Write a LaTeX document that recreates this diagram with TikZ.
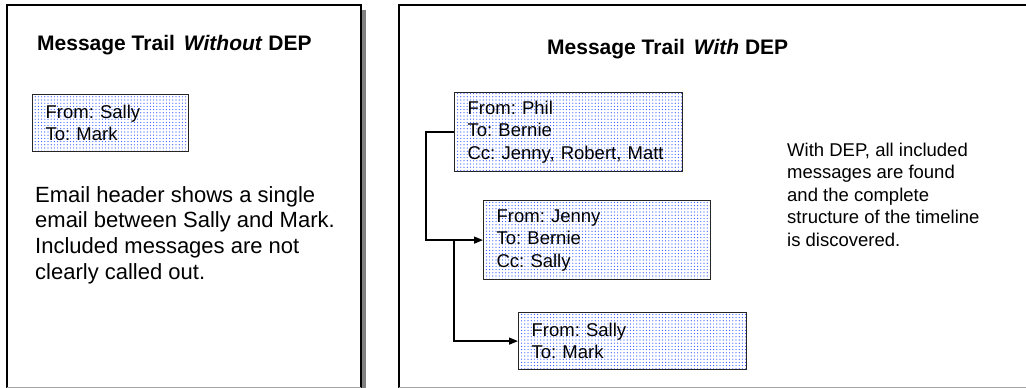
\documentclass[tikz,border=0pt]{standalone}
\usepackage{fontspec}
\setmainfont{Liberation Sans}
\usetikzlibrary{arrows.meta,patterns.meta}
\definecolor{dotblue}{RGB}{40,80,255}
\frenchspacing
\begin{document}
\begin{tikzpicture}[x=1pt,y=-1pt,
  panel/.style={draw=black,line width=1.5pt},
  msgbox/.style={draw=black!85,line width=1.2pt,
    pattern={Dots[distance=3.2pt,radius=0.6pt]},pattern color=dotblue,
    anchor=north west,align=left,inner xsep=13pt,inner ysep=0pt,
    font=\fontsize{18.5}{22.5}\selectfont},
  ttl/.style={anchor=base west,inner sep=0pt,font=\bfseries\fontsize{21}{25}\selectfont},
  desc/.style={anchor=base west,inner sep=0pt},
  link/.style={draw=black,line width=1.3pt,-{Triangle[length=9pt,width=7pt]}}]
\useasboundingbox (0,0) rectangle (1026,388);
\clip (0,0) rectangle (1026,388);
\fill[white] (0,0) rectangle (1026,388);
% left panel
\fill[black!50] (361,10) rectangle (365.5,390);
\draw[panel] (7,5) rectangle (361,395);
\draw[black!35,line width=1pt] (7,387.5) -- (361,387.5);
% right panel
\draw[panel] (399,5) rectangle (1040,395);
\draw[black!35,line width=1pt] (399,387.5) -- (1026,387.5);
% titles
\node[ttl] (t1) at (37,50) {Message Trail\hspace{9pt}\textit{Without} DEP};
\node[ttl] (t2) at (547,54) {Message Trail\hspace{9pt}\textit{With} DEP};
% left box
\node[msgbox,text width=130pt,minimum height=57pt] (l1) at (32,94) {From: Sally\\To: Mark};
\node[desc] (d1) at (35,202) {\parbox[t]{320pt}{\raggedright\fontsize{22}{25.8}\selectfont
  Email header shows a single\\email between Sally and Mark.\\Included messages are not\\clearly called out.}};
% right boxes
\node[msgbox,text width=202pt,minimum height=79pt] (b1) at (454,92) {From: Phil\\To: Bernie\\Cc: Jenny, Robert, Matt};
\node[msgbox,text width=201pt,minimum height=79pt] (b2) at (483,200) {From: Jenny\\To: Bernie\\Cc: Sally};
\node[msgbox,text width=202pt,minimum height=57pt] (b3) at (518,312) {From: Sally\\To: Mark};
\node[desc] (d2) at (787,156) {\parbox[t]{235pt}{\raggedright\fontsize{18.5}{22.5}\selectfont
  With DEP, all included\\messages are found\\and the complete\\structure of the timeline\\is discovered.}};
% connectors
\coordinate (j) at (b1.west |- b2.west);
\draw[link] (b1.west) -- ++(-28,0) |- (b2.west);
\draw[link] (j) |- (b3.west);
\end{tikzpicture}
\end{document}
